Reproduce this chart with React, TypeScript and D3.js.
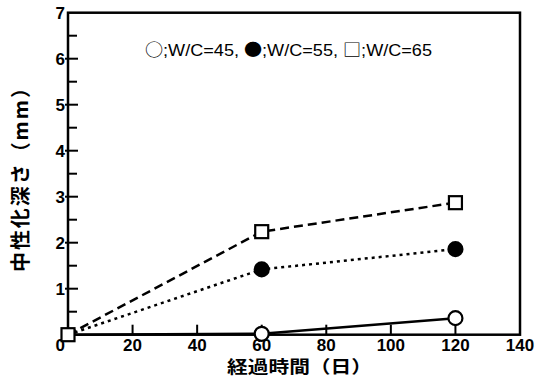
import * as d3 from 'd3';

const days = [0, 60, 120];
const wc45 = [0, 0.02, 0.36];
const wc55 = [0, 1.42, 1.86];
const wc65 = [0, 2.24, 2.87];
const xTicks = [0, 20, 40, 60, 80, 100, 120, 140];
const yTicks = [1, 2, 3, 4, 5, 6, 7];
const yMinor = [0.5, 1.5, 2.5, 3.5, 4.5, 5.5, 6.5];

const W = 551;
const H = 381;
const M = { left: 68, right: 31, top: 12.7, bottom: 46.3 };

const FONT = '"Liberation Sans", Arial, sans-serif';
const JP = '"Noto Sans CJK JP", sans-serif';

export default function App() {
  const x = d3.scaleLinear().domain([0, 140]).range([M.left, W - M.right]);
  const y = d3.scaleLinear().domain([0, 7]).range([H - M.bottom, M.top]);

  const line = d3
    .line<number>()
    .x((_, i) => x(days[i]))
    .y((d) => y(d));

  const series = [
    { values: wc45, dash: 'none', marker: 'open' },
    { values: wc55, dash: '3,4', marker: 'filled' },
    { values: wc65, dash: '9,5', marker: 'square' },
  ];

  return (
    <svg width={W} height={H} style={{ position: 'absolute', left: 0, top: 0, background: '#fff' }}>
      <rect x={M.left} y={M.top} width={x(140) - x(0)} height={y(0) - y(7)} fill="none" stroke="#000" strokeWidth={2.5} />

      {yTicks.map((t) => (
        <g key={'y' + t}>
          {t < 7 && <line x1={x(0) - 3} x2={x(0) + 10} y1={y(t)} y2={y(t)} stroke="#000" strokeWidth={2} />}
          <text x={x(0) - 3} y={y(t) + 6.5} textAnchor="end" fontFamily={FONT} fontWeight="bold" fontSize={17}>
            {t}
          </text>
        </g>
      ))}
      {yMinor.map((t) => (
        <line key={'m' + t} x1={x(0)} x2={x(0) + 9} y1={y(t)} y2={y(t)} stroke="#000" strokeWidth={2} />
      ))}

      {xTicks.map((t) => (
        <g key={'x' + t}>
          {t > 0 && t < 140 && <line x1={x(t)} x2={x(t)} y1={y(0)} y2={y(0) - 10} stroke="#000" strokeWidth={2} />}
          <text
            x={t === 0 ? x(t) - 3 : x(t)}
            y={y(0) + 16}
            textAnchor={t === 0 ? 'end' : 'middle'}
            fontFamily={FONT}
            fontWeight="bold"
            fontSize={17}
          >
            {t}
          </text>
        </g>
      ))}

      {series.map((s, i) => (
        <path key={'l' + i} d={line(s.values) || ''} fill="none" stroke="#000" strokeWidth={2.5} strokeDasharray={s.dash} />
      ))}

      {series.map((s, i) =>
        s.values.map((v, j) => {
          const cx = x(days[j]);
          const cy = y(v);
          if (s.marker === 'square')
            return <rect key={`p${i}-${j}`} x={cx - 6.5} y={cy - 6.5} width={13} height={13} fill="#fff" stroke="#000" strokeWidth={2.2} />;
          if (j === 0) return null;
          return (
            <circle
              key={`p${i}-${j}`}
              cx={cx}
              cy={cy}
              r={7}
              fill={s.marker === 'filled' ? '#000' : '#fff'}
              stroke="#000"
              strokeWidth={2.2}
            />
          );
        })
      )}

      <text x={145} y={56} fontFamily={FONT} fontSize={17} textLength={287} lengthAdjust="spacingAndGlyphs">
        <tspan fontFamily={JP}>○</tspan>;W/C=45, <tspan fontFamily={JP}>●</tspan>;W/C=55, <tspan fontFamily={JP}>□</tspan>;W/C=65
      </text>

      <text x={227} y={373} fontFamily={JP} fontWeight="bold" fontSize={17.5} textLength={145} lengthAdjust="spacingAndGlyphs">
        経過時間（日）
      </text>
      <text
        transform={`translate(28, 272) rotate(-90)`}
        fontFamily={JP}
        fontWeight="bold"
        fontSize={20}
        textLength={194}
        lengthAdjust="spacing"
      >
        中性化深さ（mm）
      </text>
    </svg>
  );
}
